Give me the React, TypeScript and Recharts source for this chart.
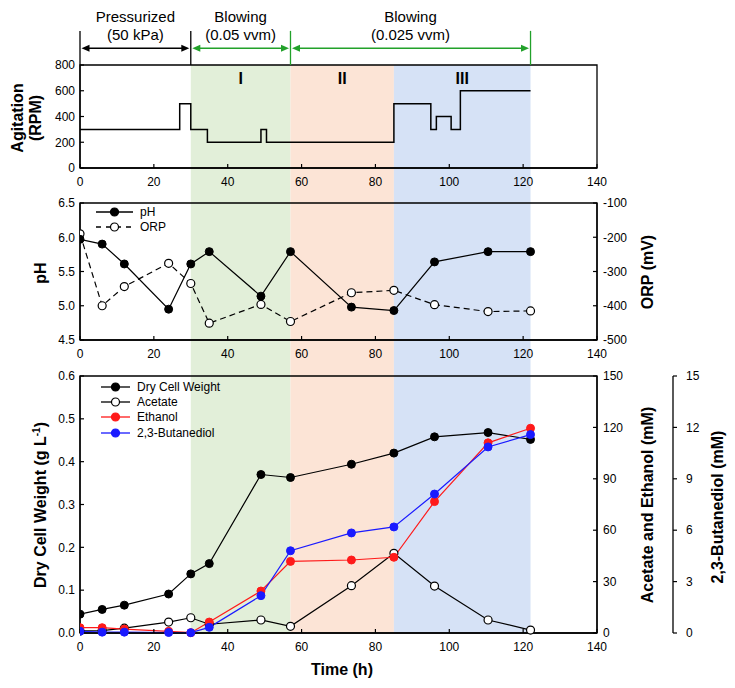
import { LineChart, Line, XAxis, YAxis, ReferenceArea, ReferenceLine, Legend } from "recharts";

const FONT = "'Liberation Sans', Arial, Helvetica, sans-serif";
const INK = "#000";
const GREEN = "#22a12a";
const RED = "#ff1a1a";
const BLUE = "#1a1aff";

// sampling times (h) and measured values
const SAMPLE_H = [0, 6, 12, 24, 30, 35, 49, 57, 73.5, 85, 96, 110.5, 122];
const PH = [5.97, 5.9, 5.61, 4.95, 5.61, 5.79, 5.14, 5.79, 4.98, 4.93, 5.64, 5.79, 5.79];
const ORP_MV = [-190, -400, -344, -276, -335, -451, -396, -446, -362, -355, -397, -417, -415];
const DCW = [0.044, 0.055, 0.065, 0.091, 0.138, 0.162, 0.37, 0.363, 0.394, 0.42, 0.458, 0.468, 0.452];
const ACETATE_MM = [1.2, 1.4, 2.8, 6.4, 8.9, 5.1, 7.6, 3.9, 27.6, 46.5, 27.4, 7.6, 1.7];
const ETHANOL_MM = [3.1, 3.1, 2.3, 1.0, 0.2, 6.4, 24.5, 41.8, 42.6, 44.2, 76.7, 111, 119.5];
const BDO_MM = [0.1, 0.05, 0.05, 0.03, 0.02, 0.33, 2.18, 4.8, 5.84, 6.19, 8.11, 10.86, 11.58];

// agitation set points (held until next change)
const AGI_H = [0, 27, 30, 34.5, 49, 50.5, 85, 95, 96.5, 100.5, 103, 122];
const AGI_RPM = [300, 500, 300, 200, 300, 200, 500, 300, 400, 300, 600, 600];

// phases
const PHASE_START = [30, 57, 85];
const PHASE_END = [57, 85, 122];
const PHASE_NAME = ["I", "II", "III"];
const PHASE_FILL = ["#e2efd9", "#fce4d6", "#d6e2f6"];

// gas supply annotation
const GAS_START = [0, 30, 57];
const GAS_END = [30, 57, 122];
const GAS_LINE1 = ["Pressurized", "Blowing", "Blowing"];
const GAS_LINE2 = ["(50 kPa)", "(0.05 vvm)", "(0.025 vvm)"];
const GAS_COLOR = [INK, GREEN, GREEN];
const BOUND_H = [0, 30, 57, 122];
const BOUND_COLOR = [INK, INK, GREEN, GREEN];

// ticks
const X_TICKS = [0, 20, 40, 60, 80, 100, 120, 140];
const RPM_TICKS = [0, 200, 400, 600, 800];
const PH_TICKS = [4.5, 5.0, 5.5, 6.0, 6.5];
const ORP_TICKS = [-500, -400, -300, -200, -100];
const DCW_TICKS = [0, 0.1, 0.2, 0.3, 0.4, 0.5, 0.6];
const MM_TICKS = [0, 30, 60, 90, 120, 150];
const BDO_TICKS = [0, 3, 6, 9, 12, 15];

const AGI_ROWS = AGI_H.map((t, i) => ({ t, rpm: AGI_RPM[i] }));
const ENV_ROWS = SAMPLE_H.map((t, i) => ({ t, ph: PH[i], orp: ORP_MV[i] }));
const PROD_ROWS = SAMPLE_H.map((t, i) => ({
  t,
  dcw: DCW[i],
  acetate: ACETATE_MM[i],
  ethanol: ETHANOL_MM[i],
  bdo: BDO_MM[i],
}));

const W = 735;
const ANN_ARROW = 930; // rpm units above the top panel
const ANN_TOP = 1065;

const tick = { fontSize: 12, fill: INK, fontFamily: FONT };
const axisLine = { stroke: INK, strokeWidth: 1.3 };
const tickLine = { stroke: INK, strokeWidth: 1.2 };

const xAxisProps = {
  dataKey: "t",
  type: "number" as const,
  domain: [0, 140],
  ticks: X_TICKS,
  tick,
  axisLine,
  tickLine,
  tickSize: -4,
  tickMargin: 13,
  height: 30,
  allowDataOverflow: true,
};

const STYLE: Record<string, { color: string; fill: string; dash?: string }> = {
  ph: { color: INK, fill: INK },
  orp: { color: INK, fill: "#fff", dash: "6 4" },
  dcw: { color: INK, fill: INK },
  acetate: { color: INK, fill: "#fff" },
  ethanol: { color: RED, fill: RED },
  bdo: { color: BLUE, fill: BLUE },
};

function SeriesKey({ payload, order, iconW }: any) {
  const items = [...(payload || [])].sort(
    (a: any, b: any) => order.indexOf(a.dataKey) - order.indexOf(b.dataKey)
  );
  return (
    <div style={{ fontFamily: FONT, fontSize: 12, color: INK }}>
      {items.map((it: any) => {
        const s = STYLE[it.dataKey];
        const c = iconW / 2;
        return (
          <div key={it.dataKey} style={{ display: "flex", alignItems: "center", height: 15.3 }}>
            <svg width={iconW} height={12} style={{ display: "block" }}>
              <line x1={0} y1={6} x2={iconW} y2={6} stroke={s.color} strokeWidth={1.3} strokeDasharray={s.dash ? "5 5" : undefined} />
              <circle cx={c} cy={6} r={4} fill={s.fill} stroke={s.color} strokeWidth={1.2} />
            </svg>
            <span style={{ marginLeft: 7, whiteSpace: "nowrap" }}>{it.value}</span>
          </div>
        );
      })}
    </div>
  );
}

function DoubleArrow(p: any) {
  const { x1, y1, x2, stroke } = p;
  const inset = 1.5;
  const len = 8;
  const half = 3.5;
  const l = Math.min(x1, x2) + inset;
  const r = Math.max(x1, x2) - inset;
  const y = y1;
  return (
    <g>
      <line x1={l + len - 1} y1={y} x2={r - len + 1} y2={y} stroke={stroke} strokeWidth={1.4} />
      <polygon points={`${l},${y} ${l + len},${y - half} ${l + len},${y + half}`} fill={stroke} />
      <polygon points={`${r},${y} ${r - len},${y - half} ${r - len},${y + half}`} fill={stroke} />
    </g>
  );
}

const gasLabel = (i: number) => (props: any) => {
  const vb = props.viewBox || {};
  const cx = vb.x + vb.width / 2;
  const y = vb.y;
  return (
    <text x={cx} y={y} textAnchor="middle" fontFamily={FONT} fontSize={15} fill={INK}>
      <tspan x={cx} dy={-26.5}>{GAS_LINE1[i]}</tspan>
      <tspan x={cx} dy={18}>{GAS_LINE2[i]}</tspan>
    </text>
  );
};

function Title({ x, y, rotate, children }: any) {
  return (
    <div
      style={{
        position: "absolute",
        left: x,
        top: y,
        transform: `translate(-50%, -50%)${rotate ? " rotate(-90deg)" : ""}`,
        whiteSpace: "nowrap",
        fontFamily: FONT,
        fontWeight: "bold",
        fontSize: 16,
        lineHeight: "18px",
        textAlign: "center",
        color: INK,
      }}
    >
      {children}
    </div>
  );
}

export default function App() {
  return (
    <div style={{ position: "absolute", left: 0, top: 0, width: W, height: 688, background: "#fff" }}>
      {/* phase shading behind all panels */}
      <div style={{ position: "absolute", left: 0, top: 0 }}>
        <LineChart width={W} height={688} data={ENV_ROWS} margin={{ top: 65, right: 138, bottom: 55, left: 80 }}>
          <XAxis dataKey="t" type="number" domain={[0, 140]} hide />
          <YAxis yAxisId="bg" type="number" domain={[0, 1]} allowDataOverflow hide />
          {PHASE_START.map((s, i) => (
            <ReferenceArea
              key={s}
              yAxisId="bg"
              x1={s}
              x2={PHASE_END[i]}
              y1={0}
              y2={1}
              fill={PHASE_FILL[i]}
              fillOpacity={1}
              stroke="none"
              ifOverflow="visible"
            />
          ))}
          <Line yAxisId="bg" dataKey="ph" stroke="none" dot={false} legendType="none" isAnimationActive={false} />
        </LineChart>
      </div>

      {/* agitation */}
      <div style={{ position: "absolute", left: 0, top: 0 }}>
        <LineChart width={W} height={198} data={AGI_ROWS} margin={{ top: 65, right: 138, bottom: 0, left: 0 }}>
          <XAxis {...xAxisProps} />
          <YAxis
            type="number"
            domain={[0, 800]}
            ticks={RPM_TICKS}
            width={80}
            tick={tick}
            axisLine={axisLine}
            tickLine={tickLine}
            tickSize={-4}
            tickMargin={9}
            allowDataOverflow
          />
          <ReferenceArea x1={0} x2={140} y1={0} y2={800} fill="none" stroke={INK} strokeWidth={1.3} ifOverflow="visible" />
          {PHASE_START.map((s, i) => (
            <ReferenceArea
              key={s}
              x1={s}
              x2={PHASE_END[i]}
              y1={0}
              y2={800}
              fill="none"
              stroke="none"
              label={{ value: PHASE_NAME[i], position: "insideTop", offset: 8, fontSize: 16, fontWeight: "bold", fill: INK, fontFamily: FONT }}
            />
          ))}
          {BOUND_H.map((h, i) => (
            <ReferenceLine
              key={h}
              segment={[{ x: h, y: 800 }, { x: h, y: ANN_TOP }]}
              stroke={BOUND_COLOR[i]}
              strokeWidth={1.3}
              ifOverflow="visible"
            />
          ))}
          {GAS_START.map((s, i) => (
            <ReferenceLine
              key={s}
              segment={[{ x: s, y: ANN_ARROW }, { x: GAS_END[i], y: ANN_ARROW }]}
              stroke={GAS_COLOR[i]}
              ifOverflow="visible"
              shape={DoubleArrow}
              label={gasLabel(i)}
            />
          ))}
          <Line type="stepAfter" dataKey="rpm" stroke={INK} strokeWidth={1.5} dot={false} isAnimationActive={false} />
        </LineChart>
      </div>

      {/* pH and ORP */}
      <div style={{ position: "absolute", left: 0, top: 185 }}>
        <LineChart width={W} height={185} data={ENV_ROWS} margin={{ top: 18, right: 0, bottom: 0, left: 0 }}>
          <XAxis {...xAxisProps} />
          <YAxis
            yAxisId="ph"
            type="number"
            domain={[4.5, 6.5]}
            ticks={PH_TICKS}
            tickFormatter={(v: number) => v.toFixed(1)}
            width={80}
            tick={tick}
            axisLine={axisLine}
            tickLine={tickLine}
            tickSize={-4}
            tickMargin={9}
          />
          <YAxis
            yAxisId="orp"
            orientation="right"
            type="number"
            domain={[-500, -100]}
            ticks={ORP_TICKS}
            width={138}
            tick={{ ...tick, textAnchor: "start" }}
            axisLine={axisLine}
            tickLine={tickLine}
            tickSize={-4}
            tickMargin={10}
          />
          <ReferenceArea yAxisId="ph" x1={0} x2={140} y1={4.5} y2={6.5} fill="none" stroke={INK} strokeWidth={1.3} ifOverflow="visible" />
          <Legend
            layout="horizontal"
            verticalAlign="middle"
            align="center"
            wrapperStyle={{ left: 96, top: 19, width: "auto" }}
            content={(p: any) => <SeriesKey {...p} order={["ph", "orp"]} iconW={37} />}
          />
          <Line
            yAxisId="orp"
            dataKey="orp"
            name="ORP"
            stroke={INK}
            strokeWidth={1.2}
            strokeDasharray="6 4"
            dot={{ r: 4, fill: "#fff", stroke: INK, strokeWidth: 1.2, strokeDasharray: "0" }}
            isAnimationActive={false}
          />
          <Line
            yAxisId="ph"
            dataKey="ph"
            name="pH"
            stroke={INK}
            strokeWidth={1.2}
            dot={{ r: 4, fill: INK, stroke: INK, strokeWidth: 1 }}
            isAnimationActive={false}
          />
        </LineChart>
      </div>

      {/* products */}
      <div style={{ position: "absolute", left: 0, top: 360 }}>
        <LineChart width={W} height={303} data={PROD_ROWS} margin={{ top: 16, right: 0, bottom: 0, left: 0 }}>
          <XAxis {...xAxisProps} />
          <YAxis
            yAxisId="dcw"
            type="number"
            domain={[0, 0.6]}
            ticks={DCW_TICKS}
            tickFormatter={(v: number) => v.toFixed(1)}
            width={80}
            tick={tick}
            axisLine={axisLine}
            tickLine={tickLine}
            tickSize={-4}
            tickMargin={9}
          />
          <YAxis
            yAxisId="r2"
            orientation="right"
            type="number"
            domain={[0, 15]}
            ticks={BDO_TICKS}
            width={62}
            tick={{ ...tick, textAnchor: "start" }}
            axisLine={axisLine}
            tickLine={tickLine}
            tickSize={4}
            tickMargin={9}
          />
          <YAxis
            yAxisId="r1"
            orientation="right"
            type="number"
            domain={[0, 150]}
            ticks={MM_TICKS}
            width={76}
            tick={{ ...tick, textAnchor: "start" }}
            axisLine={axisLine}
            tickLine={tickLine}
            tickSize={-4}
            tickMargin={10}
          />
          <ReferenceArea yAxisId="dcw" x1={0} x2={140} y1={0} y2={0.6} fill="none" stroke={INK} strokeWidth={1.3} ifOverflow="visible" />
          <Legend
            layout="horizontal"
            verticalAlign="middle"
            align="center"
            wrapperStyle={{ left: 101, top: 19, width: "auto" }}
            content={(p: any) => <SeriesKey {...p} order={["dcw", "acetate", "ethanol", "bdo"]} iconW={29} />}
          />
          <Line yAxisId="dcw" dataKey="dcw" name="Dry Cell Weight" stroke={INK} strokeWidth={1.2} dot={{ r: 4, fill: INK, stroke: INK, strokeWidth: 1 }} isAnimationActive={false} />
          <Line yAxisId="r1" dataKey="acetate" name="Acetate" stroke={INK} strokeWidth={1.2} dot={{ r: 4, fill: "#fff", stroke: INK, strokeWidth: 1.2 }} isAnimationActive={false} />
          <Line yAxisId="r1" dataKey="ethanol" name="Ethanol" stroke={RED} strokeWidth={1.2} dot={{ r: 4, fill: RED, stroke: RED, strokeWidth: 1 }} isAnimationActive={false} />
          <Line yAxisId="r2" dataKey="bdo" name="2,3-Butanediol" stroke={BLUE} strokeWidth={1.2} dot={{ r: 4, fill: BLUE, stroke: BLUE, strokeWidth: 1 }} isAnimationActive={false} />
        </LineChart>
      </div>

      <Title x={27} y={118} rotate>
        Agitation
        <br />
        (RPM)
      </Title>
      <Title x={41} y={273} rotate>pH</Title>
      <Title x={648} y={272} rotate>ORP (mV)</Title>
      <Title x={41} y={505} rotate>
        Dry Cell Weight (g L<sup style={{ fontSize: 10, lineHeight: 0 }}>-1</sup>)
      </Title>
      <Title x={648} y={505} rotate>Acetate and Ethanol (mM)</Title>
      <Title x={718} y={507} rotate>2,3-Butanediol (mM)</Title>
      <Title x={342} y={670}>Time (h)</Title>
    </div>
  );
}
